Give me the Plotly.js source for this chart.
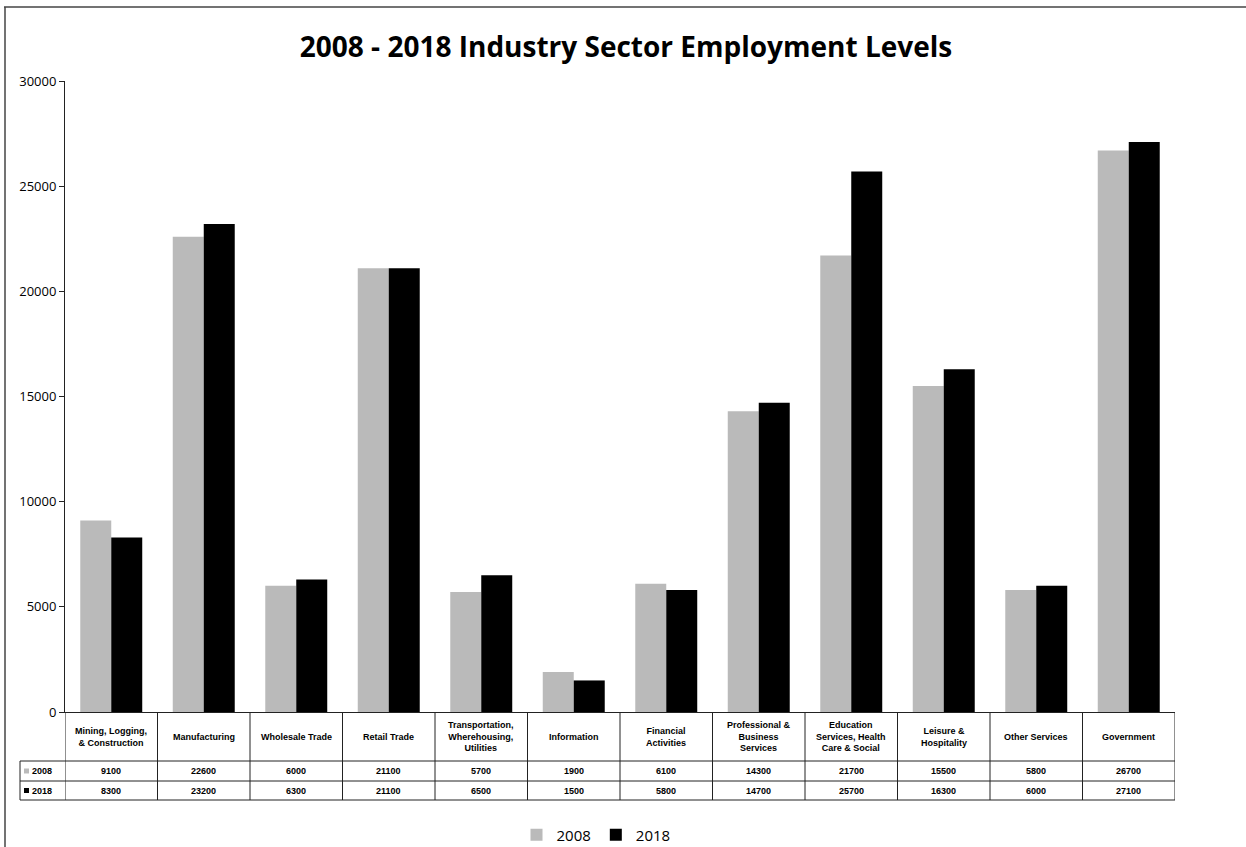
<!DOCTYPE html>
<html>
<head>
<meta charset="utf-8">
<script src="https://cdn.plot.ly/plotly-3.0.1.min.js"></script>
<style>html,body{margin:0;padding:0;background:#fff;}#chart{width:1246px;height:847px;}</style>
</head>
<body>
<div id="chart"></div>
<script>
const categories = [
  "Mining, Logging,<br>& Construction",
  "Manufacturing",
  "Wholesale Trade",
  "Retail Trade",
  "Transportation,<br>Wherehousing,<br>Utilities",
  "Information",
  "Financial<br>Activities",
  "Professional &<br>Business<br>Services",
  "Education<br>Services, Health<br>Care & Social",
  "Leisure &<br>Hospitality",
  "Other Services",
  "Government"
];
const seriesNames = ["2008", "2018"];
const values2008 = [9100, 22600, 6000, 21100, 5700, 1900, 6100, 14300, 21700, 15500, 5800, 26700];
const values2018 = [8300, 23200, 6300, 21100, 6500, 1500, 5800, 14700, 25700, 16300, 6000, 27100];
const yTicks = [0, 5000, 10000, 15000, 20000, 25000, 30000];

const W = 1246, H = 847;
const L = 65, R = 1175, T = 81, B = 712;
const ph = B - T, pw = R - L;
const py = p => (B - p) / ph;      // pixel y -> paper y
const px = p => (p - L) / pw;      // pixel x -> paper x

const idx = categories.map((_, i) => i);
const c2008 = '#bababa', c2018 = '#000000';

const traces = [
  {type: 'bar', name: seriesNames[0], x: idx, y: values2008, marker: {color: c2008, line: {width: 0}}},
  {type: 'bar', name: seriesNames[1], x: idx, y: values2018, marker: {color: c2018, line: {width: 0}}}
];

const shapes = [];
const annotations = [];
const lineStyle = {color: '#222', width: 1};
// table vertical lines
for (let i = 0; i <= categories.length; i++) {
  shapes.push({type: 'line', xref: 'x', yref: 'paper', x0: i - 0.5, x1: i - 0.5, y0: py(712), y1: py(800), line: lineStyle});
}
// table horizontal lines
[761, 781, 800].forEach(yy => {
  shapes.push({type: 'line', xref: 'paper', yref: 'paper', x0: px(20), x1: 1, y0: py(yy), y1: py(yy), line: lineStyle});
});
shapes.push({type: 'line', xref: 'paper', yref: 'paper', x0: px(20), x1: px(20), y0: py(761), y1: py(800), line: lineStyle});
// legend keys in table
shapes.push({type: 'rect', xref: 'paper', yref: 'paper', x0: px(24), x1: px(29), y0: py(768.5), y1: py(773.5), fillcolor: c2008, line: {width: 0}});
shapes.push({type: 'rect', xref: 'paper', yref: 'paper', x0: px(24), x1: px(29), y0: py(788), y1: py(793), fillcolor: c2018, line: {width: 0}});
// outer frame (top and left edges visible)
shapes.push({type: 'line', xref: 'paper', yref: 'paper', x0: px(4), x1: px(1246), y0: py(7), y1: py(7), line: {color: '#444', width: 1.5}});
shapes.push({type: 'line', xref: 'paper', yref: 'paper', x0: px(5), x1: px(5), y0: py(7), y1: py(847), line: {color: '#444', width: 1.5}});

const tFont = {family: 'Liberation Sans, Arial, sans-serif', size: 9, color: '#000'};
categories.forEach((c, i) => {
  annotations.push({xref: 'x', yref: 'paper', x: i, y: py(736.5), text: '<b>' + c + '</b>', showarrow: false, font: tFont, xanchor: 'center', yanchor: 'middle', align: 'center'});
  annotations.push({xref: 'x', yref: 'paper', x: i, y: py(771), text: '<b>' + values2008[i] + '</b>', showarrow: false, font: tFont, xanchor: 'center', yanchor: 'middle'});
  annotations.push({xref: 'x', yref: 'paper', x: i, y: py(790.5), text: '<b>' + values2018[i] + '</b>', showarrow: false, font: tFont, xanchor: 'center', yanchor: 'middle'});
});
annotations.push({xref: 'paper', yref: 'paper', x: px(30), y: py(771), text: '<b>' + seriesNames[0] + '</b>', showarrow: false, font: tFont, xanchor: 'left', yanchor: 'middle'});
annotations.push({xref: 'paper', yref: 'paper', x: px(30), y: py(790.5), text: '<b>' + seriesNames[1] + '</b>', showarrow: false, font: tFont, xanchor: 'left', yanchor: 'middle'});

const layout = {
  width: W, height: H,
  paper_bgcolor: '#fff', plot_bgcolor: '#fff',
  margin: {l: L, r: W - R, t: T, b: H - B, pad: 0, autoexpand: false},
  title: {text: '<b>2008 - 2018 Industry Sector Employment Levels</b>', x: 626 / W, xref: 'container', xanchor: 'center', y: 1 - 47 / H, yref: 'container', yanchor: 'middle',
          font: {family: 'Open Sans, Liberation Sans, sans-serif', size: 28, color: '#000'}},
  barmode: 'group', bargap: 0.33, bargroupgap: 0,
  xaxis: {range: [-0.5, categories.length - 0.5], showticklabels: false, ticks: '', showgrid: false, zeroline: false, showline: true, linecolor: '#222', linewidth: 1, fixedrange: true},
  yaxis: {range: [0, 30000], tickvals: yTicks, ticktext: yTicks.map(String), ticks: 'outside', ticklen: 5, tickcolor: '#222', showgrid: false, zeroline: false, showline: true, linecolor: '#222', linewidth: 1,
          tickfont: {family: 'Open Sans, Liberation Sans, sans-serif', size: 13, color: '#000'}, fixedrange: true},
  showlegend: true,
  legend: {orientation: 'h', x: px(596), xanchor: 'center', y: py(835), yanchor: 'middle', yref: 'paper', font: {family: 'Open Sans, Liberation Sans, sans-serif', size: 15, color: '#000'}, itemwidth: 30, traceorder: 'normal'},
  shapes: shapes,
  annotations: annotations
};

Plotly.newPlot('chart', traces, layout, {displayModeBar: false, staticPlot: true});
</script>
</body>
</html>
